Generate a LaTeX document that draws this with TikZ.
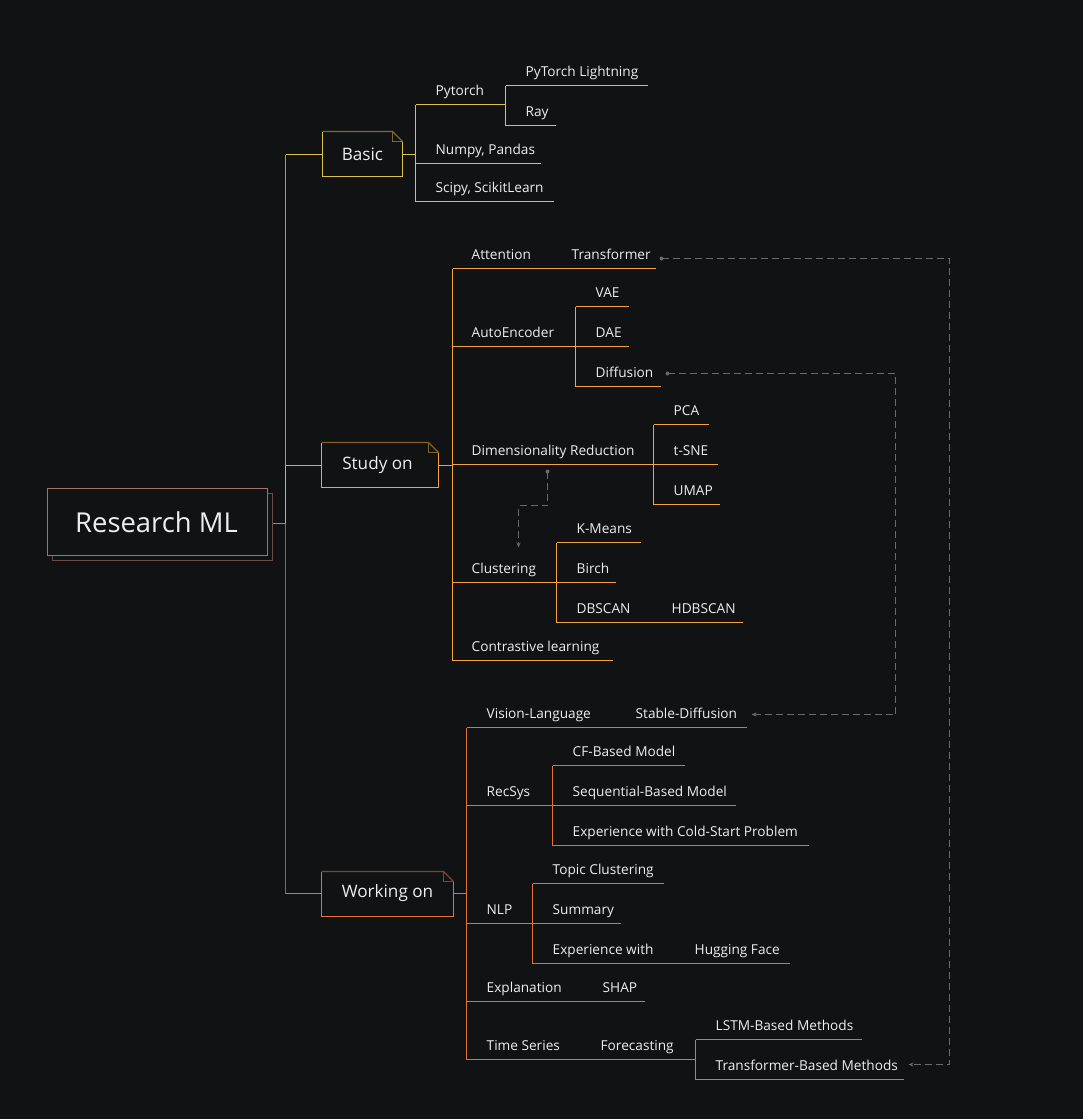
\documentclass[tikz,border=0pt]{standalone}
\usepackage{fontspec}
\setmainfont{Open Sans}
\usetikzlibrary{arrows.meta}
\definecolor{bg}{HTML}{111214}
\definecolor{txt}{HTML}{EEEEEE}
\definecolor{cY}{HTML}{DCC24A}
\definecolor{cYt}{HTML}{B89E2C}
\definecolor{cYd}{HTML}{7A6A2C}
\definecolor{cO}{HTML}{F5A240}
\definecolor{cOd}{HTML}{84602A}
\definecolor{cR}{HTML}{E4703C}
\definecolor{cRt}{HTML}{CC4E2C}
\definecolor{cRd}{HTML}{80442C}
\definecolor{cRoot}{HTML}{A8706A}
\definecolor{cRootd}{HTML}{6E4A46}
\definecolor{cDash}{HTML}{6A6A6A}
\tikzset{
  lw/.style={line width=1.4bp},
  leaf/.style={anchor=base west, inner sep=0pt, text=txt, font=\fontsize{13.7}{15}\selectfont},
  topic/.style={inner sep=0pt, text=txt, font=\fontsize{17.2}{20}\selectfont},
  lY/.style={draw=cY, lw},
  lO/.style={draw=cO, lw},
  lR/.style={draw=cR, lw},
  link/.style={draw=cDash, line width=1.1bp, dash pattern=on 7bp off 4bp},
  linkarrow/.style={link, -{Stealth[length=5bp,width=4bp]}},
  dotstart/.style={fill=cDash, circle, inner sep=0pt, minimum size=4bp}
}
\newcommand{\notebox}[6]{% x1 y1 x2 y2 col dark
  \fill[bg] (#1,#2) -- (#3-10,#2) -- (#3,#2+10) -- (#3,#4) -- (#1,#4) -- cycle;
  \draw[#5, lw] (#3,#2+10) -- (#3,#4) -- (#1,#4) -- (#1,#2);
  \draw[#6, lw] (#1,#2) -- (#3-10,#2) -- (#3,#2+10);
  \draw[#6, lw] (#3-10,#2) -- (#3-10,#2+10) -- (#3,#2+10);
}
\begin{document}
\begin{tikzpicture}[x=1bp,y=-1bp]
\fill[bg] (0,0) rectangle (1083,1119);
\useasboundingbox (0,0) rectangle (1083,1119);
\begin{scope}[shift={(0.5,0.5)}]
% trunk
\draw[draw=cYt, lw] (285,154) -- (285,465);
\draw[draw=cO, lw] (285,465) -- (285,523);
\draw[draw=cRt, lw] (285,523) -- (285,893);
\draw[draw=cR, lw] (272,523) -- (285,523);
\draw[lY] (285,154) -- (322,154);
\draw[lO] (285,465) -- (321,465);
\draw[lR] (285,893) -- (321,893);

% root
\draw[cRootd, lw, fill=bg] (52,493) rectangle (272,560);
\draw[cRoot, lw, fill=bg] (47,488) rectangle (267,555);
\node[inner sep=0pt, text=txt, font=\fontsize{27.5}{31}\selectfont] (root) at (156,521.5) {Research ML};

% topic boxes
\notebox{322}{131}{402}{176}{cY}{cYd}
\node[topic] (basic) at (362,154) {Basic};
\notebox{321}{442}{438}{487}{cO}{cOd}
\node[topic] (study) at (377,465) {Study on};
\notebox{321}{871}{453}{916}{cR}{cRd}
\node[topic] (working) at (387,893) {Working on};

% ---------- Basic ----------
\draw[lY] (402,154) -- (415,154);
\draw[lY] (415,104) -- (415,201);
\draw[lY] (415,104) -- (505,104);
\draw[lY] (505,85) -- (505,125);
\draw[lY] (505,85) -- (647,85);
\draw[lY] (505,125) -- (555,125);
\draw[lY] (415,163) -- (540,163);
\draw[lY] (415,201) -- (553,201);
\node[leaf] (pytorch) at (435,94.5) {Pytorch};
\node[leaf] (ptl) at (525,75.5) {PyTorch Lightning};
\node[leaf] (ray) at (525,115.5) {Ray};
\node[leaf] (numpy) at (435,153.5) {Numpy, Pandas};
\node[leaf] (scipy) at (435,191.5) {Scipy, ScikitLearn};

% ---------- Study on ----------
\draw[lO] (438,465) -- (452,465);
\draw[lO] (452,268) -- (452,660);
\draw[lO] (452,268) -- (655,268);
\draw[lO] (452,346) -- (628,346);
\draw[lO] (575,306) -- (575,386);
\draw[lO] (575,306) -- (628,306);
\draw[lO] (575,386) -- (660,386);
\draw[lO] (452,464) -- (717,464);
\draw[lO] (653,424) -- (653,504);
\draw[lO] (653,424) -- (708,424);
\draw[lO] (653,504) -- (719,504);
\draw[lO] (452,582) -- (615,582);
\draw[lO] (556,542) -- (556,622);
\draw[lO] (556,542) -- (640,542);
\draw[lO] (556,622) -- (742,622);
\draw[lO] (452,660) -- (612,660);
\node[leaf] (attention) at (471,258.5) {Attention};
\node[leaf] (transformer) at (571,258.5) {Transformer};
\node[leaf] (autoenc) at (471,336.5) {AutoEncoder};
\node[leaf] (vae) at (595,296.5) {VAE};
\node[leaf] (dae) at (595,336.5) {DAE};
\node[leaf] (diffusion) at (595,376.5) {Diffusion};
\node[leaf] (dimred) at (471,454.5) {Dimensionality Reduction};
\node[leaf] (pca) at (673,414.5) {PCA};
\node[leaf] (tsne) at (673,454.5) {t-SNE};
\node[leaf] (umap) at (673,494.5) {UMAP};
\node[leaf] (clustering) at (471,572.5) {Clustering};
\node[leaf] (kmeans) at (576,532.5) {K-Means};
\node[leaf] (birch) at (576,572.5) {Birch};
\node[leaf] (dbscan) at (576,612.5) {DBSCAN};
\node[leaf] (hdbscan) at (671,612.5) {HDBSCAN};
\node[leaf] (contrast) at (471,650.5) {Contrastive learning};

% ---------- Working on ----------
\draw[lR] (453,893) -- (466,893);
\draw[lR] (466,727) -- (466,1059);
\draw[lR] (466,727) -- (746,727);
\draw[lR] (466,805) -- (735,805);
\draw[lR] (552,765) -- (552,845);
\draw[lR] (552,765) -- (684,765);
\draw[lR] (552,845) -- (808,845);
\draw[lR] (466,923) -- (620,923);
\draw[lR] (532,883) -- (532,963);
\draw[lR] (532,883) -- (663,883);
\draw[lR] (532,963) -- (789,963);
\draw[lR] (466,1001) -- (644,1001);
\draw[lR] (466,1059) -- (695,1059);
\draw[lR] (695,1039) -- (695,1079);
\draw[lR] (695,1039) -- (861,1039);
\draw[lR] (695,1079) -- (903,1079);
\node[leaf] (vislang) at (486,717.5) {Vision-Language};
\node[leaf] (stablediff) at (635,717.5) {Stable-Diffusion};
\node[leaf] (recsys) at (486,795.5) {RecSys};
\node[leaf] (cf) at (572,755.5) {CF-Based Model};
\node[leaf] (seq) at (572,795.5) {Sequential-Based Model};
\node[leaf] (cold) at (572,835.5) {Experience with Cold-Start Problem};
\node[leaf] (nlp) at (486,913.5) {NLP};
\node[leaf] (topicc) at (552,873.5) {Topic Clustering};
\node[leaf] (summary) at (552,913.5) {Summary};
\node[leaf] (expw) at (552,953.5) {Experience with};
\node[leaf] (hf) at (694,953.5) {Hugging Face};
\node[leaf] (explan) at (486,991.5) {Explanation};
\node[leaf] (shap) at (602,991.5) {SHAP};
\node[leaf] (timeser) at (486,1049.5) {Time Series};
\node[leaf] (forecast) at (600,1049.5) {Forecasting};
\node[leaf] (lstm) at (715,1029.5) {LSTM-Based Methods};
\node[leaf] (trbased) at (715,1069.5) {Transformer-Based Methods};

% ---------- dashed relations ----------
\coordinate (d1s) at (661,258);
\coordinate (d1e) at (908,1064);
\node[dotstart] at (d1s) {};
\draw[linkarrow] (d1s) -- (949,258) -- (949,1064) -- (d1e);

\coordinate (d2s) at (667,373);
\coordinate (d2e) at (751,714);
\node[dotstart] at (d2s) {};
\draw[linkarrow] (d2s) -- (895,373) -- (895,714) -- (d2e);

\coordinate (d3s) at (547,471);
\coordinate (d3e) at (518,547);
\node[dotstart] at (d3s) {};
\draw[linkarrow] (d3s) -- (547,505) -- (518,505) -- (d3e);
\end{scope}
\end{tikzpicture}
\end{document}
